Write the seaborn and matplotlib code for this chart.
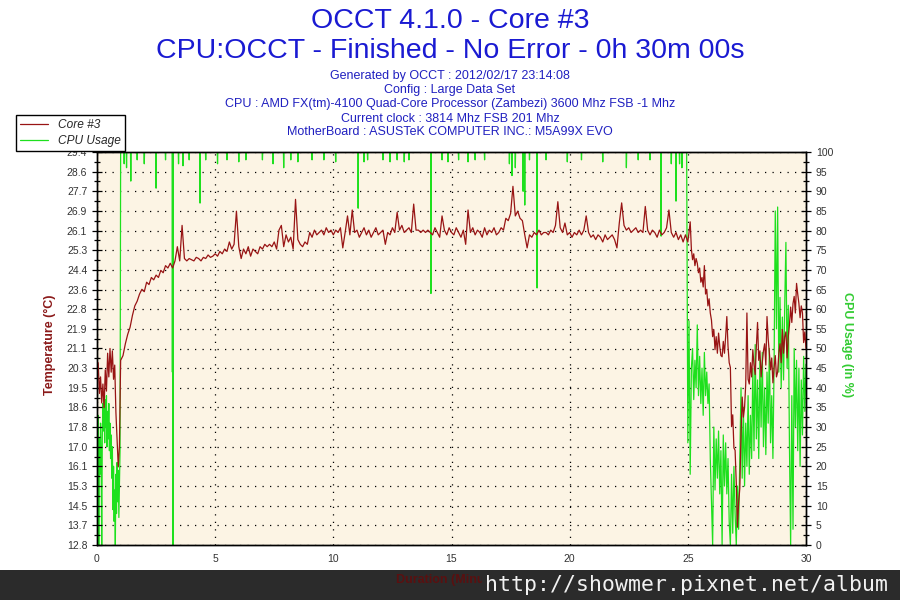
import numpy as np
import pandas as pd
import matplotlib
matplotlib.use("Agg")
import matplotlib.pyplot as plt
import seaborn as sns
from matplotlib.ticker import MultipleLocator, AutoMinorLocator, FixedLocator
from matplotlib.patches import Rectangle

# ---------------- data ----------------
title_lines = ["OCCT 4.1.0 - Core #3", "CPU:OCCT - Finished - No Error - 0h 30m 00s"]
info_lines = ["Generated by OCCT : 2012/02/17 23:14:08",
              "Config : Large Data Set",
              "CPU : AMD FX(tm)-4100 Quad-Core Processor (Zambezi) 3600 Mhz FSB -1 Mhz",
              "Current clock : 3814 Mhz FSB 201 Mhz",
              "MotherBoard : ASUSTeK COMPUTER INC.: M5A99X EVO"]
series_names = ["Core #3", "CPU Usage"]
x_ticks = [0, 5, 10, 15, 20, 25, 30]
temp_tick_labels = ["12.8", "13.7", "14.5", "15.3", "16.1", "17.0", "17.8", "18.6", "19.5", "20.3",
                    "21.1", "21.9", "22.8", "23.6", "24.4", "25.3", "26.1", "26.9", "27.7", "28.6", "29.4"]
temp_min, temp_max = 12.8, 29.4

# temperature segments: (start minute, sample step)
temp_seg_start = [0.0, 1.1, 9.0, 25.0]
temp_seg_step = [0.05, 0.1, 0.1, 0.05]
temp_a = [19.8, 20.5, 19.2, 19.9, 18.8, 19.6, 18.6, 20.2, 19.3, 20.9, 19.9, 21.1, 20.1, 21.0, 19.8,
          20.4, 18.4, 17.2, 16.1, 17.0, 20.6]
temp_b = [20.8, 21.3, 21.7, 22.0, 22.5, 22.9, 23.1, 23.4, 23.6, 23.5,
          23.9, 23.8, 24.1, 24.0, 24.2, 24.1, 24.4, 24.3, 24.6, 24.5,
          24.7, 24.5, 24.8, 25.4, 24.8, 26.3, 24.9, 24.8, 24.9, 24.85,
          24.8, 24.95, 24.9, 24.8, 24.95, 24.9, 25.05, 24.95, 25.0, 25.1,
          25.0, 25.2, 25.1, 25.3, 25.2, 25.6, 25.3, 25.5, 26.9, 25.4,
          24.9, 25.3, 25.1, 25.4, 25.0, 25.3, 25.2, 25.1, 25.4, 25.3,
          25.5, 25.4, 25.5, 25.4, 25.6, 25.3, 26.1, 26.3, 25.4, 25.9,
          25.6, 25.8, 25.3, 27.4, 25.7, 25.5, 25.4, 25.6, 25.5]
temp_c = [26.0, 25.8, 26.1, 25.9, 26.0, 26.1, 25.9, 26.2, 26.0, 26.1,
          25.9, 26.1, 26.0, 26.2, 25.35, 26.0, 26.7, 25.9, 26.95, 26.0,
          26.1, 25.8, 26.0, 26.2, 25.9, 26.1, 25.8, 26.0, 26.2, 25.9,
          26.0, 26.1, 25.5, 26.0, 25.9, 26.2, 26.0, 26.85, 26.1, 26.3,
          26.0, 26.1, 26.2, 26.0, 27.2, 26.1, 26.1, 26.0, 26.1, 26.0,
          26.1, 26.0, 25.9, 26.2, 26.0, 25.8, 26.7, 26.1, 25.9, 26.2,
          26.0, 25.9, 26.2, 26.0, 25.8, 26.1, 25.5, 26.95, 26.0, 26.2,
          25.9, 26.1, 26.0, 25.8, 26.2, 25.9, 26.1, 26.0, 26.2, 25.9,
          26.0, 26.2, 26.1, 26.6, 26.5, 26.8, 27.95, 26.7, 26.9, 26.6,
          26.5, 25.9, 25.35, 25.9, 25.8, 26.0, 25.9, 26.1, 25.9, 26.0,
          26.0, 25.9, 26.1, 26.0, 26.3, 27.3, 26.2, 26.0, 26.4, 25.9,
          26.0, 25.8, 26.0, 25.9, 26.1, 25.9, 26.1, 26.7, 26.0, 25.8,
          25.9, 25.7, 25.9, 25.8, 25.6, 25.9, 25.7, 25.8, 25.9, 25.7,
          25.35, 26.4, 27.25, 26.3, 26.1, 26.2, 26.0, 26.1, 26.2, 26.0,
          26.1, 26.0, 27.1, 26.1, 25.9, 26.1, 26.0, 25.8, 26.1, 25.9,
          26.0, 26.2, 26.95, 26.0, 25.8, 26.0, 25.7, 25.9, 25.6, 25.9]
temp_d = [25.6, 26.0, 26.45, 25.3, 24.85, 25.1, 24.6, 24.9, 24.7, 24.3,
          24.5, 23.9, 24.1, 23.7, 24.6, 23.4, 23.6, 22.9, 23.2, 22.6,
          22.3, 21.6, 21.9, 21.05, 21.6, 20.9, 21.75, 21.2, 20.8, 20.75,
          21.4, 20.9, 21.6, 22.45, 21.2, 20.5, 20.3, 17.8, 18.3, 16.9,
          16.8, 15.4, 13.55, 14.6, 15.2, 17.5, 19.05, 18.2, 18.6, 19.6,
          22.6, 19.8, 19.6, 20.5, 19.9, 21.05, 20.4, 20.0, 21.2, 22.2,
          20.6, 21.0, 19.9, 20.5, 21.0, 21.3, 20.4, 22.45, 21.5, 20.9,
          20.2, 20.7, 19.65, 20.3, 20.8, 19.9, 20.1, 20.9, 21.3, 20.5,
          21.9, 20.9, 21.6, 21.8, 20.7, 21.6, 22.1, 22.85, 22.2, 23.0,
          23.3, 22.6, 23.85, 23.4, 23.0, 22.4, 22.9, 22.6, 21.35, 21.8,
          21.1]

# CPU usage: ramp-up section (0-1 min, step 0.025), dips from 100 %, tail (25-30 min, step 0.05)
cpu_head_start, cpu_head_step = 0.0, 0.025
cpu_head = [29, 20, 33, 0, 27, 18, 31, 23, 0, 28, 36, 29, 39, 26, 37, 30, 38, 25, 34, 27,
            36, 24, 31, 22, 28, 17, 25, 9, 20, 6, 14, 0, 18, 8, 21, 11, 19, 7, 16, 24, 100]
cpu_dip_times = [1.15, 1.25, 1.43, 1.7, 2.0, 2.5, 2.9, 3.19, 3.22, 3.45, 3.64, 3.9, 4.36, 4.6,
                 5.1, 5.5, 6.0, 6.3, 7.0, 7.45, 7.9, 8.2, 8.5, 9.1, 9.6, 10.1, 11.05, 11.3,
                 11.45, 12.1, 12.4, 12.7, 13.0, 13.2, 14.13, 14.6, 14.85, 15.3, 15.7, 16.0,
                 16.4, 17.45, 17.56, 17.7, 18.03, 18.1, 18.3, 18.62, 19.0, 19.9, 20.5, 21.4,
                 22.4, 22.9, 23.4, 23.87, 24.3, 24.5, 24.65, 24.75]
cpu_dip_values = [97, 96, 92.6, 98, 97, 90.8, 98, 44, 0, 97, 96.5, 98, 87, 98,
                  97, 98, 97.5, 98, 98, 97, 96, 98, 97.5, 98, 98, 97.5, 85.7, 97.5,
                  98, 98, 97.5, 98, 97.5, 98, 64, 98, 97.5, 98, 97.5, 98,
                  98, 97, 94, 96, 90, 86.5, 98, 65.4, 98, 97.5, 98, 97.5,
                  96, 98, 98, 78.6, 97, 87.5, 97, 96]
cpu_flat_end = 24.95
cpu_tail_start, cpu_tail_step = 25.0, 0.05
cpu_tail = [26, 57, 18, 45, 50, 37, 47, 40, 56, 38, 48, 36, 45, 33, 49, 38, 44, 36, 41, 22,
            11, 0, 30, 14, 27, 17, 29, 13, 24, 0, 28, 15, 26, 13, 22, 6, 0, 18, 3, 20,
            8, 0, 15, 4, 22, 40, 17, 35, 15, 31, 20, 38, 18, 33, 22, 45, 24, 51, 27, 42,
            22, 47, 30, 49, 25, 40, 23, 44, 31, 50, 26, 38, 22, 46, 85, 55, 86, 44, 63, 40,
            58, 42, 61, 77, 45, 61, 25, 0, 38, 4, 50, 30, 47, 24, 45, 20, 42, 28, 48, 34, 46]

# ---------------- build series ----------------
t_parts, v_parts = [], []
for s0, st, vals in zip(temp_seg_start, temp_seg_step, [temp_a, temp_b, temp_c, temp_d]):
    t_parts.append(s0 + st * np.arange(len(vals)))
    v_parts.append(np.asarray(vals, dtype=float))
temp_df = pd.DataFrame({"minute": np.concatenate(t_parts), "temp": np.concatenate(v_parts)})

ct = list(cpu_head_start + cpu_head_step * np.arange(len(cpu_head)))
cv = list(map(float, cpu_head))
half_w = 0.012
for t, v in zip(cpu_dip_times, cpu_dip_values):
    ct += [t - half_w, t, t + half_w]
    cv += [100.0, v, 100.0]
ct.append(cpu_flat_end); cv.append(100.0)
ct += list(cpu_tail_start + cpu_tail_step * np.arange(len(cpu_tail)))
cv += list(map(float, cpu_tail))
cpu_df = pd.DataFrame({"minute": ct, "usage": cv})

# ---------------- style ----------------
sns.set_style("white")
plt.rcParams["font.family"] = ["Liberation Sans", "DejaVu Sans"]

RED = "#981414"
GREEN = "#1ee01e"
BLUE = "#1a1ad2"
BG = "#fcf4e4"

fig = plt.figure(figsize=(9, 6), dpi=100)
fig.patch.set_facecolor("white")

ax = fig.add_axes([97 / 900, 55 / 600, 709 / 900, 393 / 600])
ax2 = ax.twinx()

# CPU axis underneath (background, grid, green line)
ax2.patch.set_visible(True)
ax2.patch.set_facecolor(BG)
ax.set_zorder(ax2.get_zorder() + 1)
ax.patch.set_visible(False)

sns.lineplot(data=cpu_df, x="minute", y="usage", ax=ax2, color=GREEN, linewidth=0.9,
             estimator=None, sort=False, label=series_names[1])
sns.lineplot(data=temp_df, x="minute", y="temp", ax=ax, color=RED, linewidth=0.9,
             estimator=None, sort=False, label=series_names[0])

ax.set_xlim(0, 30)
ax.set_ylim(temp_min, temp_max)
ax2.set_ylim(0, 100)

ax.xaxis.set_major_locator(FixedLocator(x_ticks))
ax.xaxis.set_minor_locator(MultipleLocator(1))
temp_ticks = np.linspace(temp_min, temp_max, len(temp_tick_labels))
ax.yaxis.set_major_locator(FixedLocator(temp_ticks))
ax.set_yticklabels(temp_tick_labels)
ax.yaxis.set_minor_locator(AutoMinorLocator(2))
ax2.yaxis.set_major_locator(MultipleLocator(5))
ax2.yaxis.set_minor_locator(AutoMinorLocator(2))

# grid on the lower (CPU) axes
ax2.xaxis.set_visible(True)
ax2.set_xlabel("")
ax2.tick_params(axis="x", which="both", bottom=False, top=False, labelbottom=False, labeltop=False)
ax2.grid(True, which="major", axis="both", color="black", linestyle=(0, (1, 5)), linewidth=0.9)

for a in (ax, ax2):
    for sp in a.spines.values():
        sp.set_visible(True)
        sp.set_color("black")
        sp.set_linewidth(1.0)

tick_kw = dict(direction="inout", color="black", labelcolor="#333333", labelsize=7.5)
ax.tick_params(axis="both", which="major", length=7, width=0.9, **tick_kw)
ax.tick_params(axis="both", which="minor", length=4, width=0.9, direction="inout", color="black")
ax.tick_params(axis="x", pad=3)
ax2.tick_params(axis="y", which="major", length=7, width=0.9, **tick_kw)
ax2.tick_params(axis="y", which="minor", length=4, width=0.9, direction="inout", color="black")

ax.set_ylabel("Temperature (°C)", color="#8b1a1a", fontsize=9, fontweight="bold")
ax.yaxis.set_label_coords(-0.066, 0.51)
ax.yaxis.label.set_va("center")
ax2.set_ylabel("CPU Usage (in %)", color="#33cc33", fontsize=9, fontweight="bold", rotation=270,
               va="center")
ax2.yaxis.set_label_coords(1.058, 0.51)
ax.set_xlabel("Duration (Minutes)", color="#5a1010", fontsize=9, fontweight="bold")
ax.xaxis.set_label_coords(0.5, -0.09)
ax.xaxis.label.set_va("center")

# legend (figure level)
h1, l1 = ax.get_legend_handles_labels()
h2, l2 = ax2.get_legend_handles_labels()
for a in (ax, ax2):
    if a.get_legend() is not None:
        a.get_legend().remove()
leg = fig.legend(h1 + h2, l1 + l2, loc="upper left", bbox_to_anchor=(16 / 900, 1 - 115 / 600),
                 borderaxespad=0, frameon=True, fancybox=False, framealpha=1,
                 edgecolor="black", facecolor="white", handlelength=2.4, handletextpad=0.8,
                 labelspacing=0.38, borderpad=0.32, prop={"size": 8.6, "style": "italic"})
leg.get_frame().set_linewidth(1.0)

# titles
fig.text(0.5, 1 - 21 / 600, title_lines[0], ha="center", va="center", fontsize=20.5, color=BLUE)
fig.text(0.5, 1 - 51 / 600, title_lines[1], ha="center", va="center", fontsize=20.5, color=BLUE)
for line, ypx in zip(info_lines, [76, 90.5, 104.5, 118.5, 132]):
    fig.text(0.5, 1 - ypx / 600, line, ha="center", va="center", fontsize=9, color="#2020c0")

# watermark band
fig.patches.append(Rectangle((0, 0), 1, 30 / 600, transform=fig.transFigure,
                             facecolor="#2b2b2b", edgecolor="none", zorder=-1))
fig.text(888 / 900, 1 - 585 / 600, "http://showmer.pixnet.net/album", ha="right", va="center",
         fontsize=15.5, family="DejaVu Sans Mono", color="#f2f2f2", zorder=5,
         bbox=dict(boxstyle="square,pad=0.15", facecolor="#2b2b2b", edgecolor="none"))

fig.savefig("out.png", dpi=100)
